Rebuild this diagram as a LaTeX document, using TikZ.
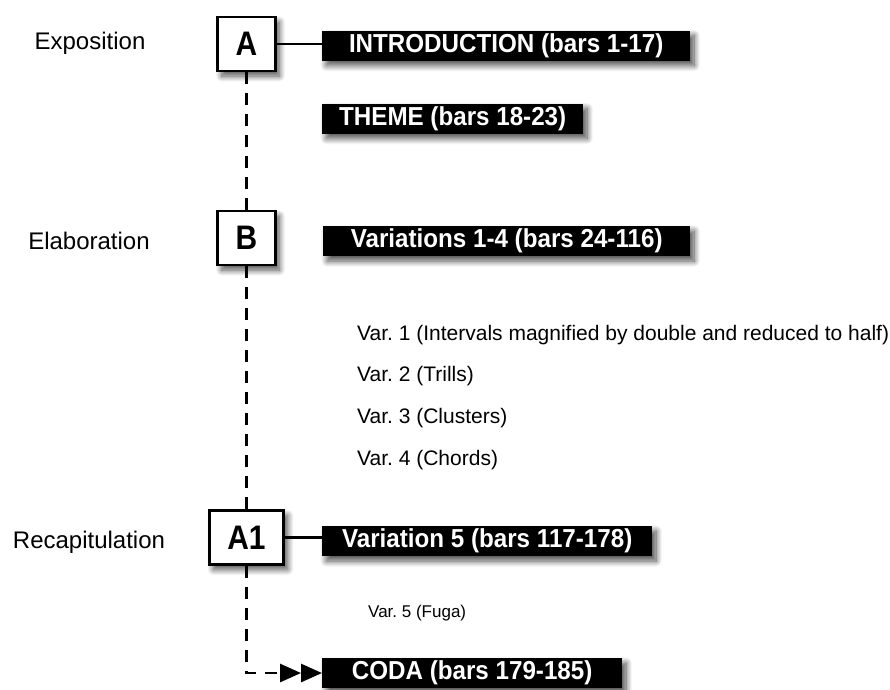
\documentclass[tikz,border=0pt]{standalone}
\usepackage{fontspec}
\setmainfont{Liberation Sans}
\newfontfamily\narrowbold[FakeStretch=0.93]{Liberation Sans Bold}
\newfontfamily\boxbold[FakeStretch=0.88]{Liberation Sans Bold}
\usetikzlibrary{arrows.meta,shadows.blur}

\begin{document}
\frenchspacing
\begin{tikzpicture}[x=1pt,y=-1pt,
  softshadow/.style={blur shadow={shadow xshift=4pt,shadow yshift=-5pt,
      shadow blur radius=6pt,shadow blur steps=12,shadow opacity=70}},
  sectionlabel/.style={anchor=base,font=\fontsize{24}{28}\selectfont},
  letterbox/.style={draw=black,line width=2.5pt,fill=white,softshadow,
      minimum width=57pt,minimum height=54pt,inner xsep=18pt,
      font=\fontsize{34}{38}\boxbold},
  bar/.style={fill=black,text=white,softshadow,anchor=west,
      minimum height=30pt,inner sep=0pt,
      font=\fontsize{26}{30}\narrowbold},
  note/.style={anchor=base west,inner sep=0pt,font=\fontsize{21}{25}\selectfont},
  smallnote/.style={anchor=base west,inner sep=0pt,font=\fontsize{17}{20}\selectfont},
  link/.style={line width=2.8pt},
  dashlink/.style={line width=2.8pt,dash pattern=on 12pt off 9pt}
]
\useasboundingbox (0,0) rectangle (890,689);

% section labels
\node[sectionlabel] (exposition) at (90,49.5) {Exposition};
\node[sectionlabel] (elaboration) at (89,249) {Elaboration};
\node[sectionlabel] (recap) at (89,548.5) {Recapitulation};

% black bars
\node[bar,minimum width=368pt] (intro) at (322,45.5) {INTRODUCTION (bars 1-17)};
\node[bar,minimum width=261pt] (theme) at (322,118.5) {THEME (bars 18-23)};
\node[bar,minimum width=367pt] (variations) at (323,241) {Variations 1-4 (bars 24-116)};
\node[bar,minimum width=330pt] (var5bar) at (322,541) {Variation 5 (bars 117-178)};
\node[bar,minimum width=300pt] (coda) at (322,673) {CODA (bars 179-185)};

% descriptions
\node[note] (var1) at (357,340) {Var. 1 (Intervals magnified by double and reduced to half)};
\node[note] (var2) at (357,381.5) {Var. 2 (Trills)};
\node[note] (var3) at (357,423) {Var. 3 (Clusters)};
\node[note] (var4) at (357,465) {Var. 4 (Chords)};
\node[smallnote] (fuga) at (368,617) {Var. 5 (Fuga)};

% section boxes
\node[letterbox] (boxA) at (246.5,44) {A};
\node[letterbox] (boxB) at (246.5,238) {B};
\node[letterbox] (boxA1) at (246.5,537.5) {A1};

% connectors
\draw[link] (boxA.east) -- (boxA.east -| intro.west);
\draw[link] (boxA1.east) -- (boxA1.east -| var5bar.west);
\draw[dashlink] (boxA.south) -- (boxB.north);
\draw[dashlink] (boxB.south) -- (boxA1.north);
\draw[dashlink,-{Triangle[length=21pt,width=18pt]Triangle[length=21pt,width=18pt]}]
  (boxA1.south) |- (coda.west);
\end{tikzpicture}
\end{document}
